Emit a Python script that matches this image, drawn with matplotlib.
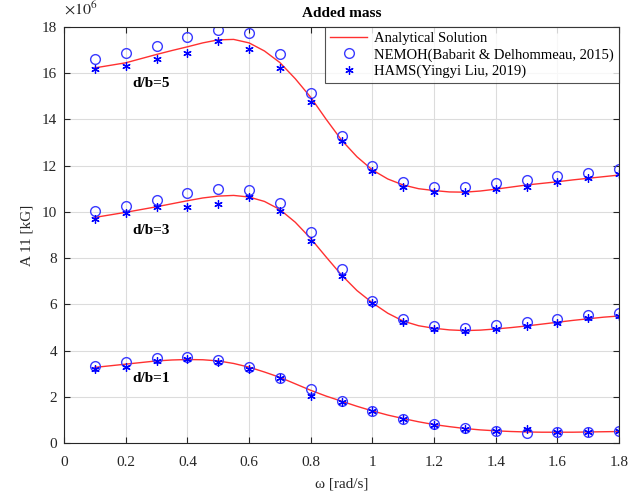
import matplotlib
matplotlib.use("Agg")
import matplotlib.pyplot as plt

plt.rcParams['font.family'] = ['Liberation Serif', 'DejaVu Serif']
plt.rcParams['mathtext.fontset'] = 'stix'

# frequencies of the numerical results
omega = [0.1, 0.2, 0.3, 0.4, 0.5, 0.6, 0.7, 0.8, 0.9,
         1.0, 1.1, 1.2, 1.3, 1.4, 1.5, 1.6, 1.7, 1.8]

# NEMOH results (x 1e6 kg)
nemoh_5 = [16.59, 16.85, 17.18, 17.56, 17.84, 17.71, 16.80, 15.12, 13.29,
           11.99, 11.30, 11.08, 11.08, 11.23, 11.36, 11.53, 11.69, 11.85]
nemoh_3 = [10.03, 10.26, 10.52, 10.81, 11.00, 10.94, 10.37, 9.11, 7.52,
           6.15, 5.36, 5.07, 4.99, 5.10, 5.24, 5.36, 5.53, 5.64]
nemoh_1 = [3.35, 3.52, 3.67, 3.71, 3.60, 3.31, 2.83, 2.33, 1.83,
           1.38, 1.06, 0.82, 0.65, 0.53, 0.46, 0.50, 0.50, 0.54]

# HAMS results (x 1e6 kg)
hams_5 = [16.16, 16.30, 16.61, 16.87, 17.38, 17.05, 16.22, 14.76, 13.06,
          11.76, 11.08, 10.87, 10.86, 11.00, 11.08, 11.30, 11.45, 11.62]
hams_3 = [9.69, 9.94, 10.19, 10.22, 10.34, 10.63, 10.05, 8.75, 7.23,
          6.05, 5.23, 4.92, 4.85, 4.94, 5.07, 5.18, 5.40, 5.51]
hams_1 = [3.21, 3.28, 3.56, 3.63, 3.50, 3.21, 2.81, 2.06, 1.80,
          1.38, 1.05, 0.80, 0.64, 0.54, 0.62, 0.50, 0.51, 0.55]

# analytical solution, finer frequency grid
omega_a = [0.10, 0.15, 0.20, 0.25, 0.30, 0.35, 0.40, 0.45, 0.50, 0.55, 0.60, 0.65,
           0.70, 0.75, 0.80, 0.85, 0.90, 0.95, 1.00, 1.05, 1.10, 1.15, 1.20, 1.25,
           1.30, 1.35, 1.40, 1.45, 1.50, 1.55, 1.60, 1.65, 1.70, 1.75, 1.80]
analytic_5 = [16.22, 16.33, 16.44, 16.62, 16.80, 16.97, 17.13, 17.30, 17.43, 17.45,
              17.30, 16.95, 16.45, 15.75, 14.95, 14.00, 13.10, 12.38, 11.81, 11.42,
              11.16, 11.00, 10.92, 10.86, 10.85, 10.90, 10.98, 11.07, 11.16, 11.23,
              11.30, 11.38, 11.45, 11.52, 11.59]
analytic_3 = [9.76, 9.87, 9.98, 10.10, 10.22, 10.35, 10.48, 10.60, 10.68, 10.71,
              10.64, 10.45, 10.10, 9.55, 8.85, 8.05, 7.27, 6.60, 6.07, 5.62,
              5.28, 5.08, 4.97, 4.90, 4.87, 4.89, 4.94, 5.00, 5.07, 5.15,
              5.23, 5.31, 5.38, 5.45, 5.50]
analytic_1 = [3.28, 3.35, 3.42, 3.49, 3.56, 3.60, 3.62, 3.61, 3.56, 3.45,
              3.29, 3.08, 2.85, 2.57, 2.29, 2.04, 1.82, 1.60, 1.40, 1.22,
              1.07, 0.93, 0.81, 0.72, 0.64, 0.58, 0.54, 0.51, 0.49, 0.48,
              0.48, 0.48, 0.49, 0.50, 0.51]

labels = ['d/b=5', 'd/b=3', 'd/b=1']
label_pos = [(0.22, 15.56), (0.22, 9.21), (0.22, 2.78)]

fig = plt.figure(figsize=(6.28, 4.94), dpi=100)
ax = fig.add_axes([0.102, 0.1026, 0.8837, 0.8434])

red = '#ff3030'
blue_c = '#3a3aff'
blue_s = '#0000ff'
star = (6, 2, 0)

sets = [(analytic_5, nemoh_5, hams_5), (analytic_3, nemoh_3, hams_3),
        (analytic_1, nemoh_1, hams_1)]
for i, (an, ne, ha) in enumerate(sets):
    ax.plot(omega_a, an, color=red, lw=1.0,
            label='Analytical Solution' if i == 0 else None)
    ax.plot(omega, ne, ls='none', marker='o', ms=7, mfc='none', mec=blue_c, mew=1.0,
            label='NEMOH(Babarit & Delhommeau, 2015)' if i == 0 else None)
    ax.plot(omega, ha, ls='none', marker=star, ms=6, color=blue_s, mew=0.9,
            label='HAMS(Yingyi Liu, 2019)' if i == 0 else None)

for txt, (x, y) in zip(labels, label_pos):
    ax.text(x, y, txt, fontsize=11, fontweight='bold', va='center', ha='left')

ax.set_xlim(0, 1.8)
ax.set_ylim(0, 18)
ax.set_xticks([0, 0.2, 0.4, 0.6, 0.8, 1.0, 1.2, 1.4, 1.6, 1.8])
ax.set_xticklabels(['0', '0.2', '0.4', '0.6', '0.8', '1', '1.2', '1.4', '1.6', '1.8'])
ax.set_yticks(range(0, 19, 2))
ax.tick_params(direction='in', top=True, right=True, labelsize=11, length=4,
               color='#262626', labelcolor='#262626')
ax.tick_params(axis='x', pad=9)
ax.tick_params(axis='y', pad=5)
ax.grid(True, color='#dcdcdc', lw=0.8)
ax.set_axisbelow(True)
for s in ax.spines.values():
    s.set_color('#262626')
    s.set_linewidth(0.8)

ax.set_xlabel('ω [rad/s]', fontsize=11, color='#262626', labelpad=6)
ax.set_ylabel('A 11 [kG]', fontsize=11, color='#262626', labelpad=6)
ax.set_title('Added mass', fontsize=11, fontweight='bold', pad=7)
ax.text(0.0, 1.02, r'$\times10^6$', transform=ax.transAxes, fontsize=11.5,
        color='#262626', ha='left', va='bottom')

leg = ax.legend(loc='upper right', fontsize=10.5, frameon=True, fancybox=False,
                edgecolor='#262626', borderaxespad=0.0, handlelength=2.5,
                borderpad=0.35, labelspacing=0.22, handletextpad=0.5)
leg.get_frame().set_linewidth(0.8)

fig.savefig('out.png', dpi=100)
